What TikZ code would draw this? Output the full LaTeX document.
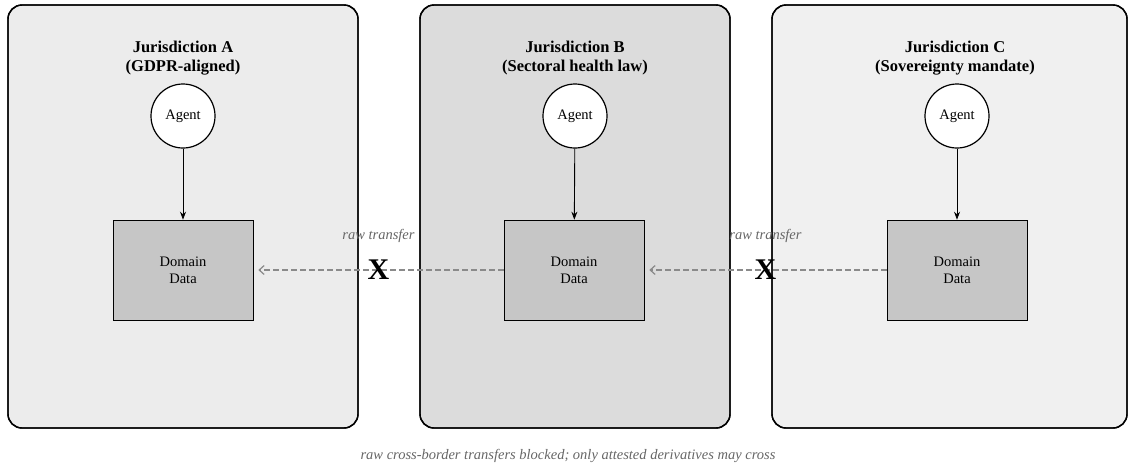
\documentclass[tikz,border=0pt]{standalone}
\usepackage{fontspec}
\setmainfont{Liberation Serif}
\usetikzlibrary{arrows.meta,positioning}

\definecolor{zoneA}{HTML}{ECECEC}
\definecolor{zoneB}{HTML}{DCDCDC}
\definecolor{zoneC}{HTML}{F0F0F0}
\definecolor{datafill}{HTML}{C6C6C6}
\definecolor{notegray}{HTML}{666666}
\definecolor{linkgray}{HTML}{8A8A8A}

\begin{document}
\begin{tikzpicture}[x=1pt,y=-1pt,semithick,
                    font=\fontsize{14.5}{17}\selectfont]
  \tikzstyle{zone}=[draw,line width=1.4pt,rounded corners=14pt]
  \tikzstyle{title}=[font=\fontsize{16.5}{19}\selectfont\bfseries,align=center]
  \tikzstyle{agent}=[circle,draw,line width=1.2pt,fill=white,minimum size=64pt,inner sep=0pt]
  \tikzstyle{data}=[rectangle,draw,fill=datafill,minimum width=140pt,minimum height=100pt,align=center]
  \tikzstyle{flow}=[->,>={Stealth[length=8pt,width=6pt]},line width=0.9pt]
  \tikzstyle{raw}=[-{Straight Barb[length=5pt,width=9pt]},linkgray,dashed,dash pattern=on 6pt off 3pt,line width=1.2pt,shorten >=5pt]
  \tikzstyle{note}=[font=\fontsize{14.5}{17}\selectfont\itshape,text=notegray]

  \useasboundingbox (0,0) rectangle (1135,467);

  \fill[zone,fill=zoneA] (8,5) rectangle (358,428);
  \fill[zone,fill=zoneB] (420,5) rectangle (730,428);
  \fill[zone,fill=zoneC] (772,5) rectangle (1127,428);
  \draw[zone] (8,5) rectangle (358,428);
  \draw[zone] (420,5) rectangle (730,428);
  \draw[zone] (772,5) rectangle (1127,428);

  \node[title] (TA) at (183,58) {Jurisdiction A\\(GDPR-aligned)};
  \node[title] (TB) at (575,58) {Jurisdiction B\\(Sectoral health law)};
  \node[title] (TC) at (955,58) {Jurisdiction C\\(Sovereignty mandate)};

  \node[agent] (AA) at (183,116) {Agent};
  \node[agent] (AB) at (575,116) {Agent};
  \node[agent] (AC) at (957,116) {Agent};

  \node[data] (DA) at (183,270) {Domain\\Data};
  \node[data] (DB) at (574,270) {Domain\\Data};
  \node[data] (DC) at (957,270) {Domain\\Data};

  \path (AA) edge[flow] (DA)
        (AB) edge[flow] (DB)
        (AC) edge[flow] (DC);

  \draw[raw] (DB) -- node[pos=0.5,text=black,font=\fontsize{30}{30}\selectfont\bfseries] (XA) {X} (DA);
  \draw[raw] (DC) -- node[pos=0.5,text=black,font=\fontsize{30}{30}\selectfont\bfseries] (XB) {X} (DB);
  \node[note] (RA) [above=10pt of XA] {raw transfer};
  \node[note] (RB) [above=10pt of XB] {raw transfer};

  \node[note] (cap) at (568,456) {raw cross-border transfers blocked; only attested derivatives may cross};
\end{tikzpicture}
\end{document}
